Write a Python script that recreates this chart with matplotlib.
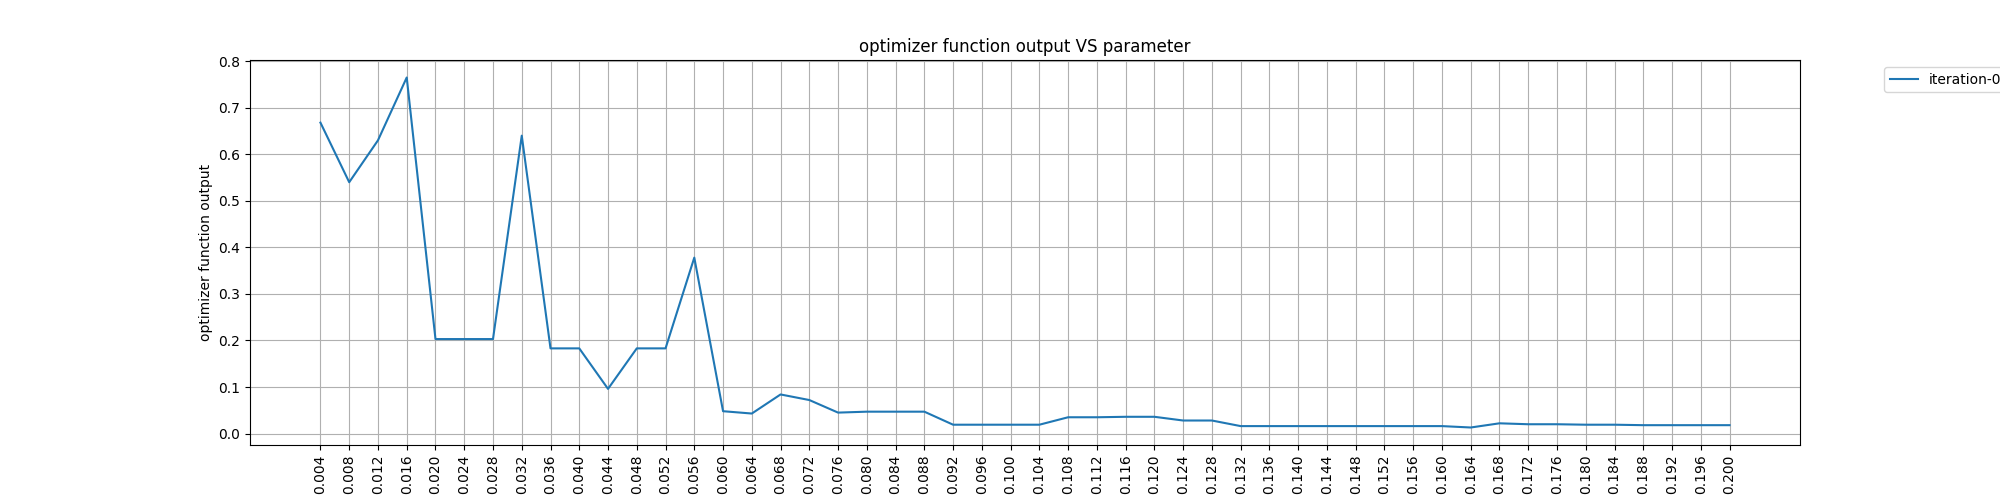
import matplotlib
matplotlib.use("Agg")
import matplotlib.pyplot as plt

params = [round(0.004 * (i + 1), 3) for i in range(50)]
tick_labels = ["%.3f" % p for p in params]
output = [0.668, 0.540, 0.630, 0.765, 0.203, 0.203, 0.203, 0.640, 0.183, 0.183,
          0.096, 0.183, 0.183, 0.378, 0.048, 0.043, 0.084, 0.072, 0.045, 0.047,
          0.047, 0.047, 0.019, 0.019, 0.019, 0.019, 0.035, 0.035, 0.036, 0.036,
          0.028, 0.028, 0.016, 0.016, 0.016, 0.016, 0.016, 0.016, 0.016, 0.016,
          0.013, 0.022, 0.020, 0.020, 0.019, 0.019, 0.018, 0.018, 0.018, 0.018]

fig, ax = plt.subplots(figsize=(20, 5), dpi=100)
ax.plot(params, output, label="iteration-0")
ax.set_xticks(params)
ax.set_xticklabels(tick_labels, rotation=90)
ax.set_ylabel("optimizer function output")
ax.set_title("optimizer function output VS parameter")
ax.grid(True)
ax.legend(loc="upper left", bbox_to_anchor=(1.05, 1))
fig.savefig("out.png")
